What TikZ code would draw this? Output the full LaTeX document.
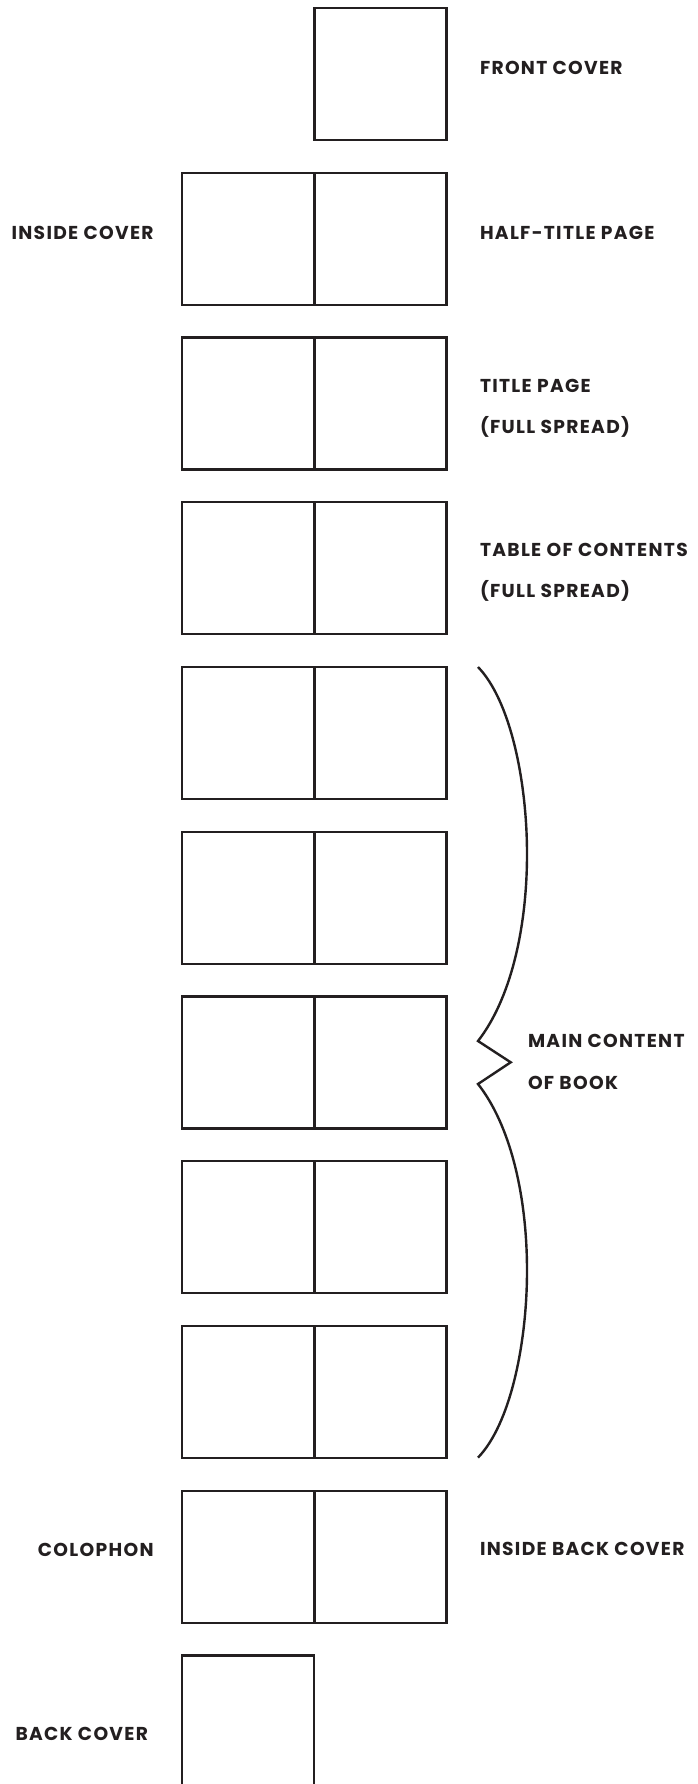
\documentclass[tikz,border=0pt]{standalone}
\usepackage{fontspec}
\newfontfamily\labfontA{Poppins}[LetterSpace=7]
\newcommand\labfont{\labfontA\bfseries}
\definecolor{ink}{HTML}{231F20}
\begin{document}
\begin{tikzpicture}[x=0.75pt,y=-0.75pt,
  page/.style={draw=ink, line width=1.8pt, minimum width=99pt, minimum height=99pt, inner sep=0pt, outer sep=0pt},
  lab/.style={font={\labfont\fontsize{14pt}{16pt}\selectfont}, text=ink, inner sep=0pt, outer sep=0pt},
  bracestyle/.style={draw=ink, line width=1.8pt}]
\useasboundingbox (0,0) rectangle (698,1784);
\clip (0,0) rectangle (698,1784);
\fill[white] (0,0) rectangle (698,1784);
% front cover
\node[page] (fc) at (380.5,74) {};
% spreads
\foreach \i in {1,...,9} {
  \node[page] (l\i) at (248.25,{74+164.75*\i}) {};
  \node[page] (r\i) at (380.5,{74+164.75*\i}) {};
}
% back cover
\node[page] (bc) at (248.25,{74+164.75*10}) {};
% labels
\node[lab, anchor=base west] (tfc) at (480,74.8) {FRONT COVER};
\node[lab, anchor=base east] (tic) at (153.6,239.8) {INSIDE COVER};
\node[lab, anchor=base west] (tht) at (480,239.8) {HALF-TITLE PAGE};
\node[lab, anchor=base west] (ttp) at (480,392) {TITLE PAGE};
\node[lab, anchor=base west] (ttp2) at (480,433.3) {(FULL SPREAD)};
\node[lab, anchor=base west] (ttc) at (480,556) {TABLE OF CONTENTS};
\node[lab, anchor=base west] (ttc2) at (480,597.5) {(FULL SPREAD)};
\node[lab, anchor=base west] (tmc) at (528,1047.5) {MAIN CONTENT};
\node[lab, anchor=base west] (tmc2) at (528,1089.5) {OF BOOK};
\node[lab, anchor=base east] (tco) at (153.6,1556.5) {COLOPHON};
\node[lab, anchor=base west] (tib) at (480,1555.5) {INSIDE BACK COVER};
\node[lab, anchor=base east] (tbc) at (148,1740.5) {BACK COVER};
% brace
\draw[bracestyle] (478,667) .. controls (510,700) and (527,780) .. (527,854)
  .. controls (527,930) and (510,1000) .. (478,1041)
  -- (510.7,1062.3) -- (478,1084)
  .. controls (510,1124.6) and (527,1194.6) .. (527,1270.6)
  .. controls (527,1344.6) and (510,1424.6) .. (478,1457.6);
\end{tikzpicture}
\end{document}
